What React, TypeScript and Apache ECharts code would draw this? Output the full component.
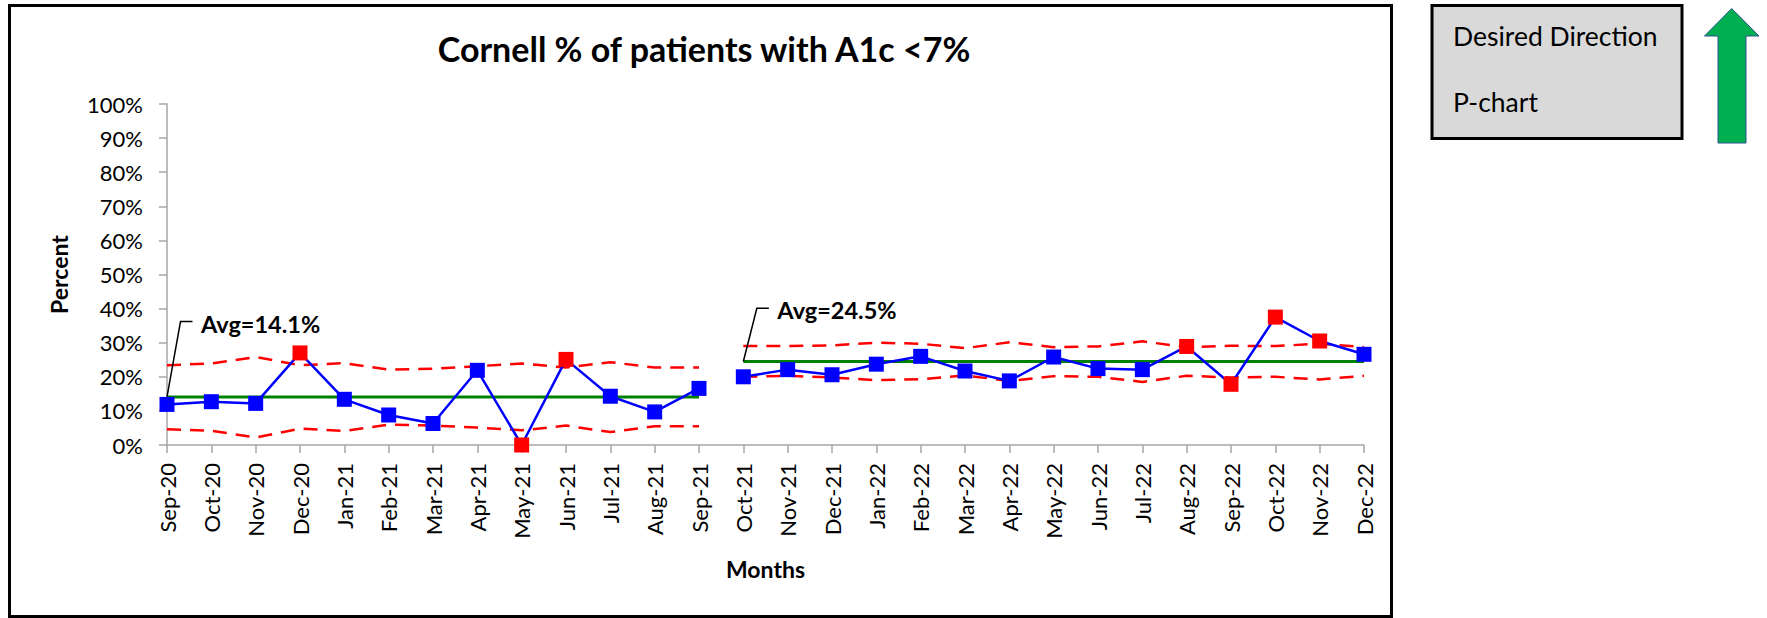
import React, { useEffect, useRef } from "react";
import * as echarts from "echarts";

const categories = [
  "Sep-20", "Oct-20", "Nov-20", "Dec-20", "Jan-21", "Feb-21", "Mar-21", "Apr-21", "May-21",
  "Jun-21", "Jul-21", "Aug-21", "Sep-21", "Oct-21", "Nov-21", "Dec-21", "Jan-22", "Feb-22",
  "Mar-22", "Apr-22", "May-22", "Jun-22", "Jul-22", "Aug-22", "Sep-22", "Oct-22", "Nov-22", "Dec-22",
];

const actualPhase1 = [11.9, 12.7, 12.2, 27.0, 13.4, 8.8, 6.3, 21.9, 0, 25.1, 14.3, 9.7, 16.6];
const actualPhase2 = [20.0, 22.1, 20.6, 23.7, 26.0, 21.7, 18.8, 25.8, 22.4, 22.1, 28.9, 17.8, 37.5, 30.5, 26.6];
const uclPhase1 = [23.4, 23.9, 25.8, 23.4, 24.0, 22.1, 22.4, 23.1, 23.9, 22.7, 24.3, 22.7, 22.7];
const lclPhase1 = [4.6, 4.2, 2.2, 4.8, 4.1, 6.0, 5.7, 5.1, 4.3, 5.7, 3.8, 5.5, 5.5];
const uclPhase2 = [29.0, 29.0, 29.2, 30.0, 29.7, 28.4, 30.1, 28.7, 28.9, 30.4, 28.7, 29.1, 29.0, 29.7, 28.7];
const lclPhase2 = [20.0, 20.3, 19.8, 19.0, 19.3, 20.4, 18.8, 20.2, 20.0, 18.5, 20.3, 19.8, 20.0, 19.2, 20.3];
const avgPhase1 = 14.1;
const avgPhase2 = 24.5;
const flaggedMonths = ["Dec-20", "May-21", "Jun-21", "Aug-22", "Sep-22", "Oct-22", "Nov-22"];
const yTicks = [0, 10, 20, 30, 40, 50, 60, 70, 80, 90, 100];

const FONT = "Lato, 'Open Sans', sans-serif";
const BLUE = "#0000FF";
const RED = "#FF0000";
const GREEN = "#008000";

export default function App() {
  const ref = useRef<HTMLDivElement>(null);

  useEffect(() => {
    if (!ref.current) return;
    const chart = echarts.init(ref.current, undefined, { renderer: "svg" });
    const n1 = actualPhase1.length;
    const n = categories.length;
    const pad = (arr: number[], start: number) =>
      categories.map((_, i) => (i >= start && i < start + arr.length ? arr[i - start] : "-"));
    const actualData = (arr: number[], start: number) =>
      categories.map((c, i) => {
        if (i < start || i >= start + arr.length) return "-";
        const v = arr[i - start];
        return flaggedMonths.includes(c)
          ? { value: v, itemStyle: { color: RED } }
          : { value: v, itemStyle: { color: BLUE } };
      });
    const avgData = (avg: number, start: number, len: number) =>
      categories.map((_, i) => (i >= start && i < start + len ? avg : "-"));

    const limitStyle = { color: RED, width: 2.5, type: [14, 9] as any };
    const base = { type: "line", symbol: "none", silent: true };

    const option: any = {
      animation: false,
      title: {
        text: "Cornell % of patients with A1c <7%",
        left: 699,
        top: 26,
        textAlign: "center",
        textStyle: { fontFamily: FONT, fontWeight: "bold", fontSize: 34, color: "#000" },
      },
      grid: { left: 167, top: 104, right: 1767 - 1364, bottom: 618 - 445, containLabel: false },
      xAxis: {
        type: "category",
        data: categories,
        boundaryGap: false,
        name: "Months",
        nameLocation: "middle",
        nameGap: 112,
        nameTextStyle: { fontFamily: FONT, fontWeight: "bold", fontSize: 23, color: "#000" },
        axisLine: { lineStyle: { color: "#A6A6A6", width: 1.5 } },
        axisTick: { length: 8, lineStyle: { color: "#A6A6A6", width: 1.5 }, alignWithLabel: true },
        axisLabel: { rotate: 90, margin: 18, fontFamily: FONT, fontSize: 22, color: "#000", interval: 0 },
      },
      yAxis: {
        type: "value",
        min: 0,
        max: 100,
        interval: 10,
        name: "Percent",
        nameLocation: "middle",
        nameGap: 97,
        nameRotate: 90,
        nameTextStyle: { fontFamily: FONT, fontWeight: "bold", fontSize: 23, color: "#000" },
        splitLine: { show: false },
        axisLine: { show: true, lineStyle: { color: "#A6A6A6", width: 1.5 } },
        axisTick: { show: true, length: 8, lineStyle: { color: "#A6A6A6", width: 1.5 } },
        axisLabel: {
          margin: 24,
          fontFamily: FONT,
          fontSize: 22,
          color: "#000",
          formatter: (v: number) => (yTicks.includes(v) ? v + "%" : ""),
        },
      },
      series: [
        { ...base, name: "UCL 1", data: pad(uclPhase1, 0), lineStyle: limitStyle, z: 2 },
        { ...base, name: "LCL 1", data: pad(lclPhase1, 0), lineStyle: limitStyle, z: 2 },
        { ...base, name: "UCL 2", data: pad(uclPhase2, n1), lineStyle: limitStyle, z: 2 },
        { ...base, name: "LCL 2", data: pad(lclPhase2, n1), lineStyle: limitStyle, z: 2 },
        { ...base, name: "Avg 1", data: avgData(avgPhase1, 0, n1), lineStyle: { color: GREEN, width: 3 }, z: 3 },
        { ...base, name: "Avg 2", data: avgData(avgPhase2, n1, n - n1), lineStyle: { color: GREEN, width: 3 }, z: 3 },
        {
          type: "line",
          name: "Actual 1",
          data: actualData(actualPhase1, 0),
          symbol: "rect",
          symbolSize: 15,
          lineStyle: { color: BLUE, width: 2.5 },
          itemStyle: { color: BLUE },
          z: 5,
        },
        {
          type: "line",
          name: "Actual 2",
          data: actualData(actualPhase2, n1),
          symbol: "rect",
          symbolSize: 15,
          lineStyle: { color: BLUE, width: 2.5 },
          itemStyle: { color: BLUE },
          z: 5,
        },
      ],
    };
    chart.setOption(option);

    const toPx = (cat: number, val: number) =>
      chart.convertToPixel({ gridIndex: 0 }, [cat, val]) as number[];

    const leader = (cat: number, avg: number, topVal: number, id: string, text: string) => {
      const p = toPx(cat, avg);
      const t = toPx(cat, topVal);
      return [
        {
          type: "polyline",
          id: id + "-line",
          z: 20,
          shape: { points: [[p[0], p[1]], [p[0] + 13.5, t[1]], [p[0] + 25.5, t[1]]] },
          style: { stroke: "#000", lineWidth: 1.5, fill: null },
        },
        {
          type: "text",
          id: id + "-text",
          z: 20,
          x: p[0] + 34,
          y: t[1] + 2,
          style: {
            text,
            fontFamily: FONT,
            fontWeight: "bold",
            fontSize: 23.5,
            fill: "#000",
            textVerticalAlign: "middle",
            textAlign: "left",
          },
        },
      ];
    };

    const graphic: any[] = [
      {
        type: "rect",
        id: "chart-border",
        z: 0,
        shape: { x: 9.5, y: 5.5, width: 1382, height: 611 },
        style: { fill: null, stroke: "#000", lineWidth: 3 },
      },
      {
        type: "rect",
        id: "dir-box",
        shape: { x: 1432, y: 5.5, width: 250, height: 133 },
        style: { fill: "#D9D9D9", stroke: "#000", lineWidth: 3 },
      },
      {
        type: "text",
        id: "dir-text",
        x: 1453,
        y: 36,
        style: { text: "Desired Direction", fontFamily: FONT, fontSize: 26.5, fill: "#000", textVerticalAlign: "middle" },
      },
      {
        type: "text",
        id: "pchart-text",
        x: 1453,
        y: 102,
        style: { text: "P-chart", fontFamily: FONT, fontSize: 26.5, fill: "#000", textVerticalAlign: "middle" },
      },
      {
        type: "polygon",
        id: "arrow",
        shape: {
          points: [
            [1731.7, 8.5], [1759, 36], [1746, 36], [1746, 143], [1718, 143], [1718, 36], [1704.5, 36],
          ],
        },
        style: { fill: "#00B050", stroke: "#2F528F", lineWidth: 1 },
      },
      ...leader(0, avgPhase1, 36.2, "avg1", "Avg=" + avgPhase1.toFixed(1) + "%"),
      ...leader(n1, avgPhase2, 40.1, "avg2", "Avg=" + avgPhase2.toFixed(1) + "%"),
    ];
    chart.setOption({ graphic });

    return () => chart.dispose();
  }, []);

  return (
    <div
      ref={ref}
      style={{ position: "fixed", left: 0, top: 0, width: 1767, height: 618, background: "#fff" }}
    />
  );
}
